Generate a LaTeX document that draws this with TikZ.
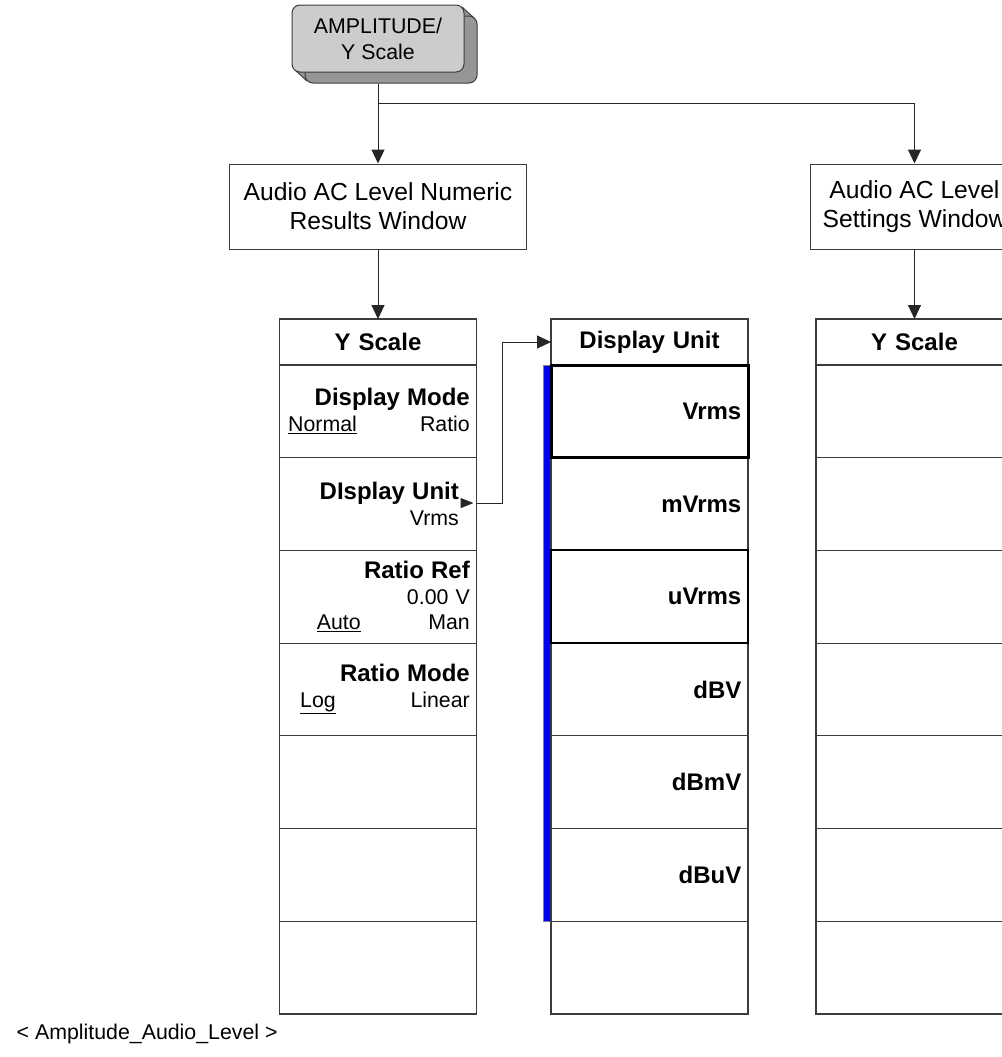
\documentclass[tikz,border=0pt]{standalone}
\usepackage{fontspec}
\setmainfont{Liberation Sans}
\usetikzlibrary{arrows.meta}
\definecolor{frameGray}{RGB}{60,60,60}
\definecolor{keyFill}{RGB}{204,204,204}
\definecolor{keyShade}{RGB}{150,150,150}
\definecolor{barBlue}{RGB}{0,0,255}
\newcommand{\lblfont}{\fontsize{16}{19}\selectfont}
\newcommand{\hdfont}{\bfseries\fontsize{18}{21}\selectfont}
\newcommand{\optpair}[3]{\makebox[\linewidth]{\hspace*{#1}\underline{#2}\hfill #3}}
\newcommand{\padR}{\rule{8.25pt}{0pt}}
\tikzset{
  softkey/.style={draw=frameGray,line width=0.9pt,minimum width=147.75pt,minimum height=69.525pt,
    inner sep=0pt,outer sep=0pt,text width=137.75pt,align=right,font=\lblfont},
  menuhead/.style={softkey,minimum height=34.5pt,align=center,font=\hdfont},
  winbox/.style={draw=frameGray,line width=0.75pt,minimum height=63.75pt,inner sep=0pt,
    align=center,font=\fontsize{18.5}{21.75}\selectfont},
  keyface/.style={draw=frameGray,line width=0.75pt,fill=keyFill,rounded corners=6pt,
    minimum width=129pt,minimum height=50.25pt,align=center,font=\fontsize{16}{19.5}\selectfont},
  arr/.style={draw=black!85,line width=0.75pt,-{Triangle[length=10.5pt,width=9.75pt]}},
  selkey/.style={draw=black,line width=2.25pt},
}

\begin{document}
\begin{tikzpicture}[x=0.75pt,y=-0.75pt]
\useasboundingbox (0,0) rectangle (1002,1057);
\clip (0,0) rectangle (1002,1057);

% front panel key with its raised edge
\foreach \d in {1,...,13}
  \fill[keyShade,rounded corners=6pt] ({292+\d},{5+\d*0.85}) rectangle ({464+\d},{72+\d*0.85});
\draw[frameGray,line width=0.75pt,rounded corners=6pt] (305,16) rectangle (477,83);
\draw[frameGray,line width=0.75pt] (295,70) -- (307,81) (462,7) -- (474,18);
\node[keyface] (key) at (378,38.5) {AMPLITUDE/\\Y Scale};

% result windows
\node[winbox,minimum width=222.75pt] (numwin) at (378,206.5) {Audio AC Level Numeric\\Results Window};
\node[winbox,minimum width=156pt] (setwin) at (914.5,206.5) {Audio AC Level\\Settings Window};

% Y Scale menu (numeric results)
\node[menuhead] (ysL) at (378,342) {Y Scale};
\node[softkey] (dmode) at (378,411.35) {{\hdfont Display Mode}\\\optpair{1.5pt}{Normal}{Ratio}};
\node[softkey] (dunit) at (378,504.05) {{\hdfont DIsplay Unit}\padR\\Vrms\padR};
\node[softkey] (rref) at (378,596.75) {{\hdfont Ratio Ref}\\0.00 V\\\optpair{23pt}{Auto}{Man}};
\node[softkey] (rmode) at (378,689.45) {{\hdfont Ratio Mode}\\\optpair{10.5pt}{Log}{Linear}};
\foreach \i in {5,6,7}
  \node[softkey] (blankL-\i) at (378,{365+(\i-0.5)*92.7}) {};

% Display Unit menu
\fill[barBlue,draw=black!50,line width=0.4pt] (543,365) rectangle (551,921);
\node[menuhead] (hdrM) at (649.5,342) {Display Unit};
\foreach \nm/\txt [count=\i] in {vrms/Vrms,mvrms/mVrms,uvrms/uVrms,dbv/dBV,dbmv/dBmV,dbuv/dBuV,mblank/}
  \node[softkey,font=\hdfont] (\nm) at (649.5,{365+(\i-0.5)*92.7}) {\txt};
\draw[selkey] (vrms.north west) rectangle (vrms.south east);
\draw[draw=black,line width=1.5pt] (uvrms.north west) rectangle (uvrms.south east);

% Y Scale menu (settings)
\node[menuhead] (ysR) at (914.5,342) {Y Scale};
\foreach \i in {1,...,7}
  \node[softkey] (ysR-\i) at (914.5,{365+(\i-0.5)*92.7}) {};

% connectors
\coordinate (split) at (378,103);
\draw[arr] ([yshift=-8.25pt]key.south) -- (numwin.north);
\draw[arr] (split) -| (setwin.north);
\draw[arr] (numwin.south) -- (ysL.north);
\draw[arr] (setwin.south) -- (ysR.north);
\draw[arr,-{Triangle[length=9.75pt,width=7.5pt]}] ([xshift=-12pt,yshift=0.75pt]dunit.east) -- ([xshift=-2.25pt,yshift=0.75pt]dunit.east);
\draw[arr] ([yshift=0.75pt]dunit.east) -- ++(26,0) |- (hdrM.west);

\node[anchor=west,font=\lblfont] (caption) at (12,1034) {< Amplitude\_Audio\_Level >};
\end{tikzpicture}
\end{document}
